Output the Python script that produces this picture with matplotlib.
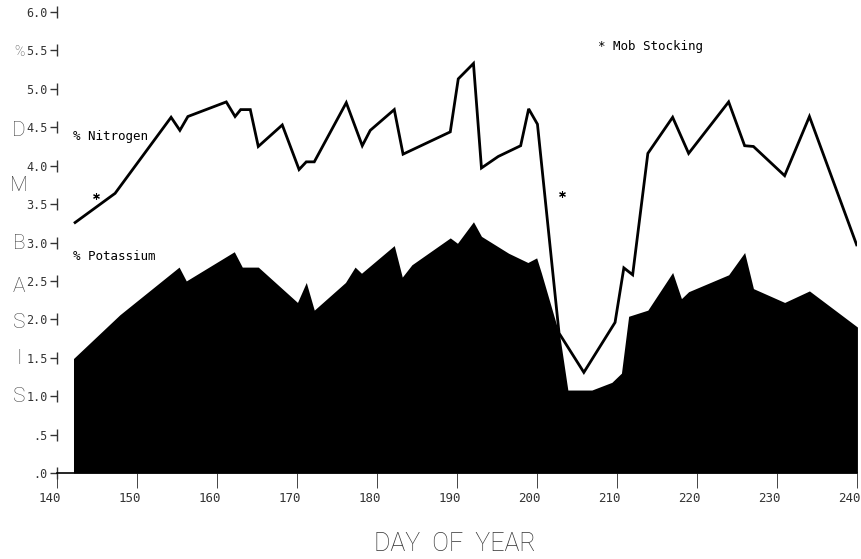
import matplotlib
matplotlib.use('Agg')
import matplotlib.pyplot as plt
import matplotlib.transforms as mtransforms

# Nitrogen and potassium content (% dry matter) by day of year
nitrogen_day = [142.2, 147.2, 154.2, 155.3, 156.3, 161.1, 162.2, 162.9, 164.1, 165.1,
                168.1, 170.2, 171.1, 172.1, 176.1, 178.1, 179.1, 182.1, 183.2, 189.1,
                190.1, 192.0, 193.0, 195.1, 197.9, 198.9, 200.0, 202.7, 205.8, 209.7,
                210.8, 211.9, 213.8, 216.9, 218.9, 223.9, 225.9, 227.0, 230.9, 234.0,
                239.9]
nitrogen_pct = [3.26, 3.64, 4.63, 4.46, 4.64, 4.83, 4.64, 4.73, 4.73, 4.25,
                4.53, 3.95, 4.05, 4.05, 4.82, 4.26, 4.46, 4.73, 4.15, 4.44,
                5.13, 5.33, 3.97, 4.12, 4.26, 4.74, 4.54, 1.82, 1.31, 1.96,
                2.67, 2.58, 4.16, 4.63, 4.16, 4.83, 4.26, 4.25, 3.87, 4.64,
                2.97]

potassium_day = [142.0, 147.8, 155.2, 156.1, 162.1, 163.1, 165.1, 170.0, 171.1, 172.1,
                 176.0, 177.2, 178.0, 182.1, 183.1, 184.3, 189.1, 190.0, 192.0, 193.0,
                 196.4, 198.8, 199.9, 200.5, 202.8, 203.8, 206.8, 209.3, 210.5, 211.4,
                 213.8, 216.9, 218.0, 218.9, 223.9, 225.9, 227.0, 230.9, 234.0, 240.0]
potassium_pct = [1.49, 2.06, 2.68, 2.50, 2.88, 2.68, 2.68, 2.22, 2.48, 2.12,
                 2.48, 2.68, 2.60, 2.96, 2.55, 2.71, 3.06, 2.99, 3.27, 3.08,
                 2.86, 2.74, 2.80, 2.60, 1.78, 1.08, 1.08, 1.18, 1.30, 2.04,
                 2.12, 2.61, 2.27, 2.36, 2.58, 2.87, 2.40, 2.22, 2.37, 1.90]

mob_day = [144.8, 203.1]
mob_pct = [3.60, 3.63]

x_ticks = list(range(140, 241, 10))
y_ticks = [0.0, 0.5, 1.0, 1.5, 2.0, 2.5, 3.0, 3.5, 4.0, 4.5, 5.0, 5.5, 6.0]
y_tick_labels = ['.0', '.5', '1.0', '1.5', '2.0', '2.5', '3.0', '3.5',
                 '4.0', '4.5', '5.0', '5.5', '6.0']

mono = 'DejaVu Sans Mono'
thin = ['Roboto', 'DejaVu Sans']

fig = plt.figure(figsize=(8.62, 5.59), dpi=100)
ax = fig.add_axes([0.0667, 0.1538, 0.928, 0.8247])
ax.set_xlim(140, 240)
ax.set_ylim(0, 6)

# potassium as a solid black area, nitrogen as a heavy line
ax.fill_between(potassium_day, potassium_pct, 0, color='black', linewidth=0)
ax.plot(nitrogen_day, nitrogen_pct, color='black', linewidth=2.0, solid_joinstyle='miter')
ax.scatter(mob_day, mob_pct, marker=(6, 2, 0), s=18, color='black', linewidths=0.8)

ax.text(142, 4.38, '% Nitrogen', family=mono, fontsize=9, va='center')
ax.text(142, 2.82, '% Potassium', family=mono, fontsize=9, va='center')
ax.text(207.6, 5.55, '* Mob Stocking', family=mono, fontsize=9, va='center')

for side in ['top', 'right', 'left']:
    ax.spines[side].set_visible(False)
ax.spines['bottom'].set_linewidth(1.2)

ax.set_xticks(x_ticks)
ax.set_yticks(y_ticks)
ax.set_yticklabels(y_tick_labels)
ax.tick_params(axis='x', direction='out', length=11, width=0.7, pad=3,
               color='#444444', labelsize=9, labelcolor='#333333')
ax.tick_params(axis='y', direction='out', length=5, width=1.0, pad=2,
               color='#333333', labelsize=8.5, labelcolor='#333333')
for lab in ax.get_xticklabels() + ax.get_yticklabels():
    lab.set_family(mono)

# plotter-style labels sit a little left of their ticks
shift = mtransforms.ScaledTranslation(-8 / 100, 0, fig.dpi_scale_trans)
for lab in ax.get_xticklabels():
    lab.set_transform(lab.get_transform() + shift)

# short vertical bars on each y tick in place of a continuous axis line
ax.plot([140] * len(y_ticks), y_ticks, linestyle='none', marker='|',
        markersize=9, markeredgewidth=1.0, color='#333333', clip_on=False)

fig.text(0.528, 0.027, 'DAY  OF  YEAR', family=thin, fontweight='light', fontsize=18,
         color='#333333', ha='center', va='center')

# vertical axis caption written one letter at a time
side_letters = ['%', 'D', 'M', 'B', 'A', 'S', 'I', 'S']
side_y_px = [52, 130, 185, 243, 286, 323, 359, 396]
for letter, ypx in zip(side_letters, side_y_px):
    fig.text(19 / 862, 1 - ypx / 559, letter, family=thin, fontweight='light',
             fontsize=10 if letter == '%' else 15, color='#444444',
             ha='center', va='center')

fig.savefig('out.png', dpi=100)
